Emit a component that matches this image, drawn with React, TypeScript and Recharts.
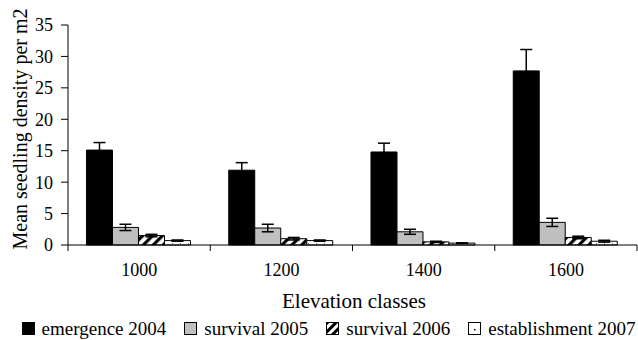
import { Bar, BarChart, ErrorBar, Legend, XAxis, YAxis } from "recharts";

const categories = ["1000", "1200", "1400", "1600"];
const emergence2004 = [15.1, 11.9, 14.8, 27.7];
const emergence2004Err = [1.2, 1.2, 1.4, 3.4];
const survival2005 = [2.8, 2.7, 2.1, 3.6];
const survival2005Err = [0.5, 0.6, 0.4, 0.65];
const survival2006 = [1.5, 1.0, 0.5, 1.2];
const survival2006Err = [0.2, 0.2, 0.1, 0.2];
const establishment2007 = [0.7, 0.7, 0.3, 0.6];
const establishment2007Err = [0.1, 0.1, 0.05, 0.15];
const yTicks = [0, 5, 10, 15, 20, 25, 30, 35];

const chartData = categories.map((name, i) => ({
  name,
  e04: emergence2004[i],
  e04Err: emergence2004Err[i],
  s05: survival2005[i],
  s05Err: survival2005Err[i],
  s06: survival2006[i],
  s06Err: survival2006Err[i],
  est07: establishment2007[i],
  est07Err: establishment2007Err[i],
}));

const FONT = "Liberation Serif";

const legendItems = [
  { label: "emergence 2004", fill: "#000" },
  { label: "survival 2005", fill: "#c0c0c0" },
  { label: "survival 2006", fill: "hatch" },
  { label: "establishment 2007", fill: "dots" },
];

function Swatch({ fill }: { fill: string }) {
  return (
    <svg width={13} height={13} style={{ display: "block", flex: "none" }}>
      <defs>
        <pattern id="lgHatch" patternUnits="userSpaceOnUse" width={6} height={6} patternTransform="rotate(45)">
          <rect x={0} y={0} width={6} height={6} fill="#fff" />
          <rect x={0} y={0} width={3} height={6} fill="#000" />
        </pattern>
      </defs>
      {fill === "hatch" ? (
        <rect x={0.5} y={0.5} width={12} height={12} fill="url(#lgHatch)" stroke="#000" />
      ) : fill === "dots" ? (
        <g>
          <rect x={0.5} y={0.5} width={12} height={12} fill="#fff" stroke="#000" />
          <rect x={6} y={7} width={1.5} height={1.5} fill="#000" />
        </g>
      ) : (
        <rect x={0.5} y={0.5} width={12} height={12} fill={fill} stroke="#000" />
      )}
    </svg>
  );
}

function LegendContent() {
  return (
    <div
      style={{
        height: 30,
        paddingTop: 7,
        boxSizing: "border-box",
        display: "flex",
        justifyContent: "center",
        alignItems: "center",
        fontFamily: FONT,
        fontSize: 19,
        color: "#000",
        whiteSpace: "nowrap",
        paddingLeft: 38,
      }}
    >
      {legendItems.map((it) => (
        <div key={it.label} style={{ display: "flex", alignItems: "center", marginRight: 18, flex: "none" }}>
          <Swatch fill={it.fill} />
          <span style={{ marginLeft: 7, lineHeight: "20px" }}>{it.label}</span>
        </div>
      ))}
    </div>
  );
}

function XTick(props: any) {
  const { x, y, payload, index } = props;
  const half = payload && payload.offset ? payload.offset : 71.1;
  const axisY = y - 8;
  return (
    <g>
      <line x1={x - half} y1={axisY} x2={x - half} y2={axisY + 6} stroke="#000" />
      {index === categories.length - 1 && (
        <line x1={x + half} y1={axisY} x2={x + half} y2={axisY + 6} stroke="#000" />
      )}
      <text x={x} y={y + 23} textAnchor="middle" fontFamily={FONT} fontSize={18} fill="#000">
        {payload.value}
      </text>
    </g>
  );
}

function App() {
  return (
    <div style={{ position: "absolute", left: 0, top: 0, width: 638, height: 340, background: "#fff" }}>
      <BarChart
        width={638}
        height={340}
        data={chartData}
        margin={{ top: 25, right: 1, left: 0, bottom: 0 }}
        barCategoryGap="13%"
        barGap={0}
      >
        <defs>
          <pattern id="hatch" patternUnits="userSpaceOnUse" width={7} height={7} patternTransform="rotate(45)">
            <rect x={0} y={0} width={7} height={7} fill="#fff" />
            <rect x={0} y={0} width={3.2} height={7} fill="#000" />
          </pattern>
          <pattern id="dots" patternUnits="userSpaceOnUse" width={8} height={6}>
            <rect x={0} y={0} width={8} height={6} fill="#fff" />
            <rect x={4} y={3} width={1} height={1} fill="#777" />
          </pattern>
        </defs>
        <XAxis
          dataKey="name"
          height={65}
          axisLine={{ stroke: "#000" }}
          tickLine={false}
          tickSize={6}
          tickMargin={2}
          interval={0}
          tick={<XTick />}
          label={{
            value: "Elevation classes",
            position: "insideBottom",
            offset: 0,
            content: () => (
              <text x={354} y={308} textAnchor="middle" fontFamily={FONT} fontSize={21} fill="#000">
                Elevation classes
              </text>
            ),
          }}
        />
        <YAxis
          width={68}
          domain={[0, 35]}
          ticks={yTicks}
          interval={0}
          axisLine={{ stroke: "#000" }}
          tickLine={{ stroke: "#000" }}
          tickSize={7}
          tickMargin={8}
          tick={{ fontSize: 18, fill: "#000", fontFamily: FONT }}
          label={{
            value: "Mean seedling density per m2",
            content: () => (
              <text
                x={27}
                y={129}
                transform="rotate(-90 27 129)"
                textAnchor="middle"
                fontFamily={FONT}
                fontSize={20}
                fill="#000"
              >
                Mean seedling density per m2
              </text>
            ),
          }}
        />
        <Legend verticalAlign="bottom" content={<LegendContent />} />
        <Bar dataKey="e04" name="emergence 2004" fill="#000" stroke="#000" isAnimationActive={false}>
          <ErrorBar dataKey="e04Err" width={6} stroke="#000" strokeWidth={1.5} direction="y" />
        </Bar>
        <Bar dataKey="s05" name="survival 2005" fill="#c0c0c0" stroke="#000" isAnimationActive={false}>
          <ErrorBar dataKey="s05Err" width={6} stroke="#000" strokeWidth={1.5} direction="y" />
        </Bar>
        <Bar dataKey="s06" name="survival 2006" fill="url(#hatch)" stroke="#000" isAnimationActive={false}>
          <ErrorBar dataKey="s06Err" width={6} stroke="#000" strokeWidth={1.5} direction="y" />
        </Bar>
        <Bar dataKey="est07" name="establishment 2007" fill="url(#dots)" stroke="#000" isAnimationActive={false}>
          <ErrorBar dataKey="est07Err" width={6} stroke="#000" strokeWidth={1.5} direction="y" />
        </Bar>
      </BarChart>
    </div>
  );
}

export default App;
